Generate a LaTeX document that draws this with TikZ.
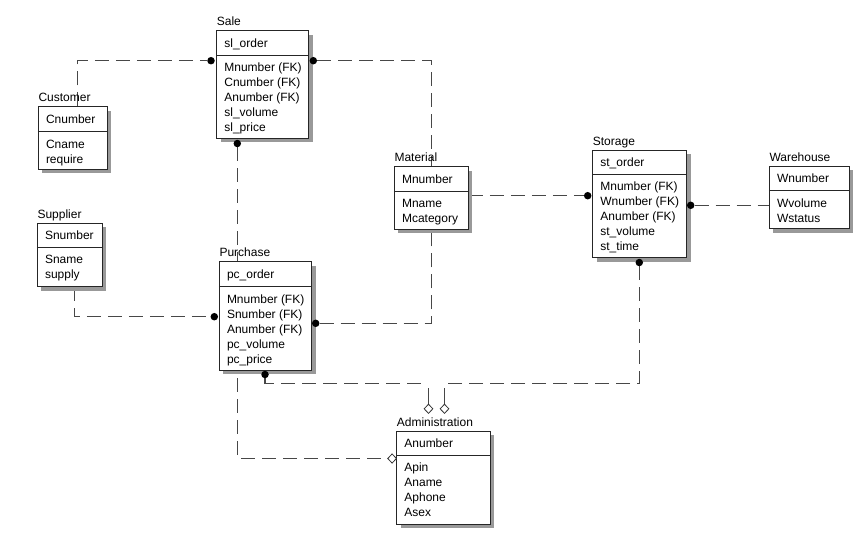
\documentclass[tikz,border=0pt]{standalone}
\usepackage{fontspec}
\setmainfont{Liberation Sans}
\usetikzlibrary{shapes.geometric,shadows,fit,backgrounds}
% #1 id, #2 title, #3 left, #4 top, #5 right, #6 separator, #7 bottom, #8 key, #9 rows
\newcommand{\erentity}[9]{%
  \node[ebox, fit={(#3,#4) (#5,#7)}] (#1) {};
  \draw[sepline] (#1.west |- 0,#6) -- (#1.east |- 0,#6);
  \node[lbl] (#1-t) at (#3, #4-5) {#2};
  \node[lbl] (#1-h) at (#3+7.5, {(#4+#6)/2+4.3}) {#8};
  \foreach \r [count=\i] in {#9} {
    \node[lbl] (#1-\i) at (#3+7.5, {#6+16.6+15*(\i-1)}) {\r};
  }%
}
\begin{document}
\begin{tikzpicture}[x=1pt,y=-1pt,
  lbl/.style={font=\fontsize{12}{15}\selectfont, inner sep=0pt, anchor=base west},
  ebox/.style={draw=black!85, line width=0.9pt, fill=white, inner sep=0pt,
    drop shadow={shadow xshift=4pt, shadow yshift=-4pt, fill=black!40, opacity=1}},
  sepline/.style={draw=black!85, line width=0.9pt},
  rel/.style={draw=black!72, line width=1.2pt, dash pattern=on 14pt off 7pt},
  stub/.style={draw=black!72, line width=1.2pt},
  dot/.style={circle, fill=black, inner sep=0pt, minimum size=7.5pt},
  dia/.style={diamond, draw=black!80, fill=white, line width=0.8pt, inner sep=0pt,
    minimum width=9pt, minimum height=9.5pt}]
\useasboundingbox (0,0) rectangle (865,536);

\erentity{sale}{Sale}{216.7}{30.7}{308.7}{55}{138.3}{sl\_order}%
  {Mnumber (FK),Cnumber (FK),Anumber (FK),sl\_volume,sl\_price}
\erentity{cust}{Customer}{38.3}{106.7}{107.3}{131.7}{169.3}{Cnumber}%
  {Cname,require}
\erentity{sup}{Supplier}{37.3}{223.3}{102}{247.3}{286.7}{Snumber}%
  {Sname,supply}
\erentity{pur}{Purchase}{219.3}{261.7}{311.7}{286.7}{370}{pc\_order}%
  {Mnumber (FK),Snumber (FK),Anumber (FK),pc\_volume,pc\_price}
\erentity{mat}{Material}{394.3}{166.7}{468.3}{191}{229.3}{Mnumber}%
  {Mname,Mcategory}
\erentity{sto}{Storage}{592.7}{150}{686.7}{174}{257.7}{st\_order}%
  {Mnumber (FK),Wnumber (FK),Anumber (FK),st\_volume,st\_time}
\erentity{wh}{Warehouse}{769.3}{166}{849.3}{190.7}{228.7}{Wnumber}%
  {Wvolume,Wstatus}
\erentity{adm}{Administration}{396.7}{431}{490}{455}{524}{Anumber}%
  {Apin,Aname,Aphone,Asex}

% relationship end markers
\node[dot] (sdl) at (211,60.7) {};
\node[dot] (sdr) at (313.3,60.7) {};
\node[dot] (sdb) at (237.3,143.5) {};
\node[dot] (pdl) at (214.3,316.7) {};
\node[dot] (pdr) at (315.7,323.3) {};
\node[dot] (pdb) at (265,374.5) {};
\node[dot] (stl) at (587.7,195.7) {};
\node[dot] (str) at (690.7,205.3) {};
\node[dot] (stb) at (639.3,262.5) {};
\node[dia] (a1) at (428.5,408.8) {};
\node[dia] (a2) at (444.5,408.8) {};
\node[dia] (a3) at (392.1,458.5) {};
\coordinate (k1) at (426.5,383.3);
\coordinate (k2) at (444.5,383.3);
\coordinate (k1b) at (428.5,388.3);
\coordinate (k2b) at (444.5,388.3);

\begin{scope}[on background layer]
  \draw[rel] (cust.north -| 77.3,0) |- (sdl);
  \draw[rel] (sdr) -| (mat.north -| 431.7,0);
  \draw[rel] (sdb) |- (a3);
  \draw[rel] (sup.south -| 74.3,0) |- (pdl);
  \draw[rel] (pdr) -| (mat.south -| 431.7,0);
  \draw[rel] (pdb) |- (k1);
  \draw[stub] (k1b) -- (a1);
  \draw[rel] (stb) |- (k2);
  \draw[stub] (k2b) -- (a2);
  \draw[rel] (mat.east |- 0,195.7) -- (stl);
  \draw[rel] (str) -- (wh.west |- 0,205.3);
\end{scope}
\end{tikzpicture}
\end{document}
